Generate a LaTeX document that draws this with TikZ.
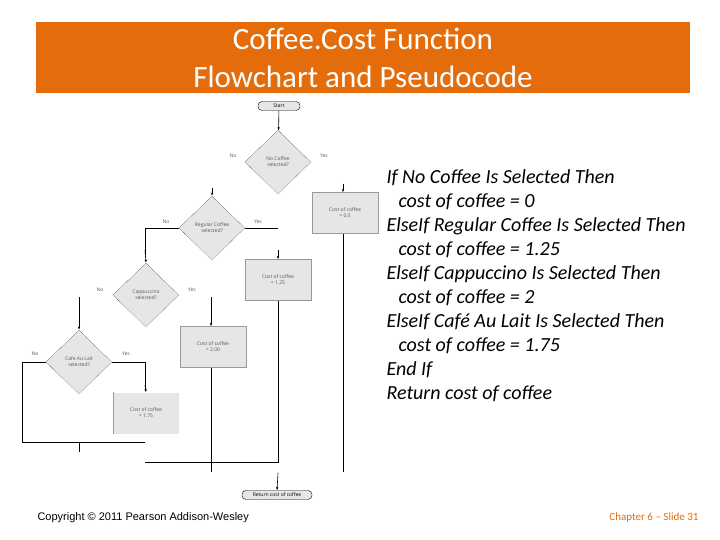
\documentclass[tikz,border=0pt]{standalone}
\usepackage{fontspec}
\setmainfont{Carlito}
\newfontfamily\arialf{Liberation Sans}
\newfontfamily\fcf{Open Sans}
\usetikzlibrary{shapes.geometric,arrows.meta}
\definecolor{orng}{HTML}{E46C0A}
\definecolor{boxg}{HTML}{E6E6E6}
\tikzset{
 dia/.style={diamond,draw,densely dotted,fill=boxg,minimum width=66pt,minimum height=64pt,inner sep=0pt,align=center,font=\fcf\fontsize{5}{6}\selectfont,text=gray!70!black},
 pbox/.style={rectangle,draw=gray!80,fill=boxg,minimum width=66pt,minimum height=41pt,align=center,font=\fcf\fontsize{5}{6}\selectfont,text=gray!70!black},
 term/.style={rounded corners=4pt,draw,fill=boxg,minimum width=42pt,minimum height=9pt,inner sep=1pt,font=\fcf\fontsize{5}{6}\selectfont},
 lbl/.style={font=\fcf\fontsize{5}{6}\selectfont,text=gray!70!black},
 ln/.style={line width=0.6pt},
 ar/.style={ln,-{Latex[length=3pt,width=2.5pt]}},
 code/.style={anchor=west,font=\itshape\fontsize{20}{22}\selectfont}
}
\begin{document}
\begin{tikzpicture}[x=1pt,y=-1pt]
\useasboundingbox (0,0) rectangle (720,540);
\fill[orng] (36,22) rectangle (690,93);
\node[text=white,align=center,font=\fontsize{31}{38}\selectfont] (title) at (363,58) {Coffee.Cost Function\\Flowchart and Pseudocode};
% flowchart
\node[term] (start) at (279,106) {Start};
\node[dia] (d1) at (278,162) {No Coffee\\selected?};
\node[pbox] (b1) at (345,213) {Cost of coffee\\= 0.0};
\node[dia] (d2) at (212,228) {Regular Coffee\\selected?};
\node[pbox] (b2) at (278,280) {Cost of coffee\\= 1.25};
\node[dia] (d3) at (146,295) {Cappuccino\\selected?};
\node[pbox] (b3) at (213,347) {Cost of coffee\\= 2.00};
\node[dia] (d4) at (79,362) {Cafe Au Lait\\selected?};
\node[pbox,draw=none] (b4) at (146,413) {Cost of coffee\\= 1.75};
\draw[ln,gray!80] (b4.north west) -- (b4.south west);
\node[term,minimum width=70pt] (ret) at (277,495) {Return cost of coffee};
\node[lbl] (n1) at (233,156) {No};
\node[lbl] (y1) at (324,156) {Yes};
\node[lbl] (n2) at (166,222) {No};
\node[lbl] (y2) at (258,222) {Yes};
\node[lbl] (n3) at (100,290) {No};
\node[lbl] (y3) at (192,290) {Yes};
\node[lbl] (n4) at (35,354) {No};
\node[lbl] (y4) at (126,354) {Yes};
\draw[ar] (start) -- (d1);
\draw[ar] (343,184) -- (b1.north -| 343,0);
\draw[ar] (212,188) -- (d2.north);
\draw[ln] (d2.east) -- (278,228);
\draw[ar] (278,250) -- (b2.north);
\draw[ln] (d2.west) -- (145,228) -- (145,255);
\draw[ar] (145,250) -- (d3.north);
\draw[ln] (211,297) -- (211,323);
\draw[ar] (211,318) -- (b3.north -| 211,0);
\draw[ln] (79,297) -- (79,325);
\draw[ar] (79,320) -- (d4.north);
\draw[ln] (d4.east) -- (145,362) -- (145,390);
\draw[ar] (145,385) -- (b4.north);
\draw[ln] (d4.west) -- (22,362) -- (22,442) -- (145,442);
\draw[ln] (79,442) -- (79,452);
\draw[ln] (b2.south) -- (278,462) -- (145,462);
\draw[ln] (211,368) -- (211,472);
\draw[ln] (343,234) -- (343,472);
\draw[ar] (278,473) -- (ret.north);
% pseudocode
\node[code] (c1) at (383,178) {If No Coffee Is Selected Then};
\node[code] (c2) at (395,202) {cost of coffee = 0};
\node[code] (c3) at (383,226) {ElseIf Regular Coffee Is Selected Then};
\node[code] (c4) at (395,250) {cost of coffee = 1.25};
\node[code] (c5) at (383,274) {ElseIf Cappuccino Is Selected Then};
\node[code] (c6) at (395,298) {cost of coffee = 2};
\node[code] (c7) at (383,322) {ElseIf Café Au Lait Is Selected Then};
\node[code] (c8) at (395,346) {cost of coffee = 1.75};
\node[code] (c9) at (383,370) {End If};
\node[code] (c10) at (383,394) {Return cost of coffee};
\node[anchor=west,font=\arialf\fontsize{11}{12}\selectfont] (copy) at (34,518) {Copyright © 2011 Pearson Addison-Wesley};
\node[anchor=east,text=orng,font=\fontsize{11}{12}\selectfont] (ch) at (702,518) {Chapter 6 – Slide 31};
\end{tikzpicture}
\end{document}
